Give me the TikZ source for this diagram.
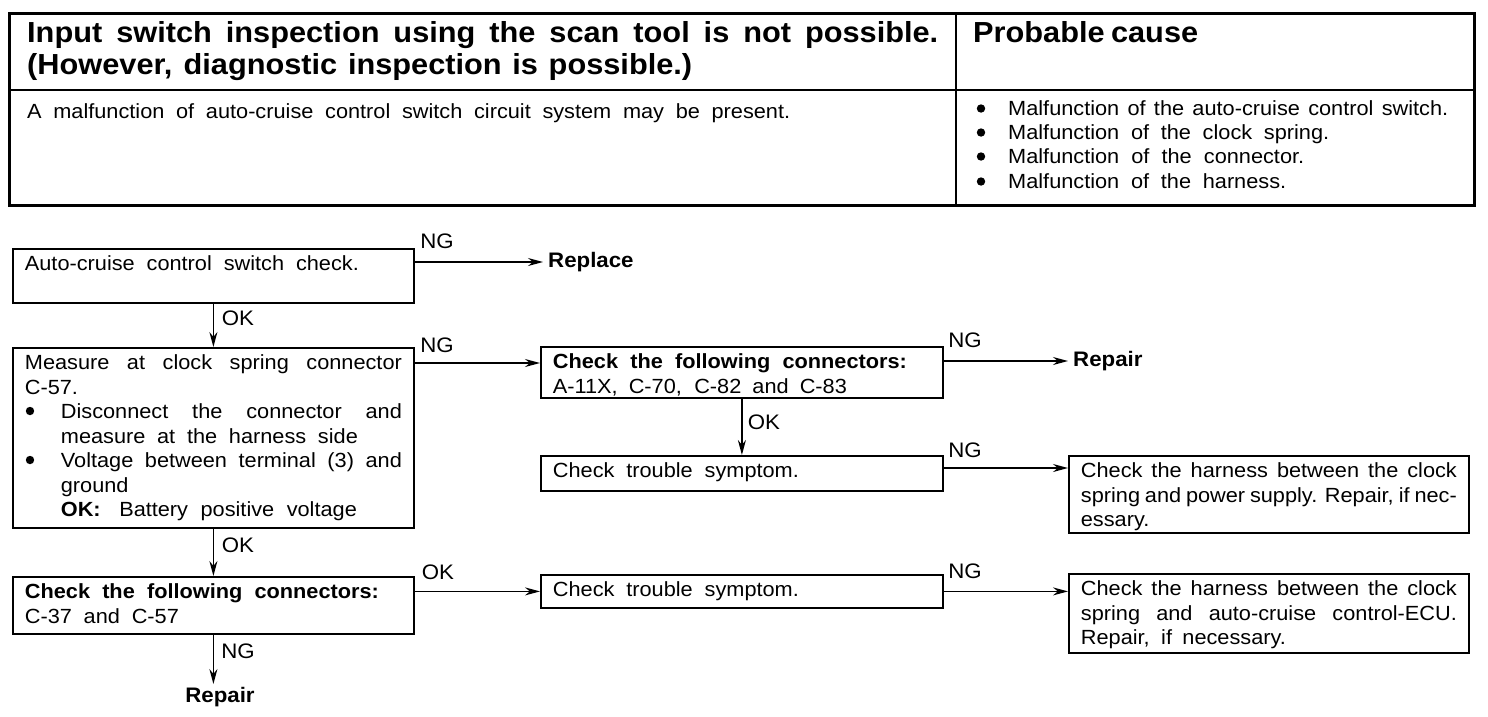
\documentclass[tikz,border=0pt]{standalone}
\usepackage{fontspec}
\setmainfont{Liberation Sans}[FakeStretch=1.06]
\usetikzlibrary{arrows.meta}
\newcommand{\LN}[2]{\makebox[#1pt][s]{#2}}
\newcommand{\fst}{\rule{0pt}{22pt}}
\begin{document}
\begin{tikzpicture}[x=1pt,y=-1pt,
  every node/.style={inner sep=0pt},
  txt/.style={font=\fontsize{20.5}{24.5}\selectfont},
  hdr/.style={font=\fontsize{29}{30}\selectfont\bfseries},
  box/.style={draw, line width=1.8pt, anchor=north west, inner xsep=12pt, inner ysep=0pt, font=\fontsize{20.5}{24.5}\selectfont},
  arr/.style={line width=1.4pt, -{Stealth[length=15pt,width=8pt]}},
  lbl/.style={font=\fontsize{21}{22}\selectfont},
  res/.style={font=\fontsize{21}{22}\selectfont\bfseries, inner sep=5pt},
  dot/.style={fill=black}]
\useasboundingbox (0,0) rectangle (1488,716);
\fill[white] (0,0) rectangle (1488,716);

% ---------- top table ----------
\draw[line width=3pt] (9,13) rectangle (1474,205);
\draw[line width=2pt] (9,90) -- (1474,90);
\draw[line width=2pt] (956,13) -- (956,205);
\node[hdr, anchor=base west] (h1) at (27,42) {\LN{911}{Input switch inspection using the scan tool is not possible.}};
\node[hdr, anchor=base west] (h2) at (27,74) {\LN{665}{(However, diagnostic inspection is possible.)}};
\node[hdr, anchor=base west] (h3) at (973,42) {\LN{225}{Probable cause}};
\node[txt, anchor=base west] (d1) at (27,118) {\LN{763}{A malfunction of auto-cruise control switch circuit system may be present.}};
\node[txt, anchor=base west] (c1) at (1008,115) {\LN{440}{Malfunction of the auto-cruise control switch.}};
\node[txt, anchor=base west] (c2) at (1008,139) {\LN{321}{Malfunction of the clock spring.}};
\node[txt, anchor=base west] (c3) at (1008,163) {\LN{296}{Malfunction of the connector.}};
\node[txt, anchor=base west] (c4) at (1008,188) {\LN{278}{Malfunction of the harness.}};
\fill[dot] (981,108.5) circle (4.2);
\fill[dot] (981,132.5) circle (4.2);
\fill[dot] (981,156.5) circle (4.2);
\fill[dot] (981,181.5) circle (4.2);

% ---------- flowchart boxes ----------
\node[box] (b1) at (12,248) {\parbox[c][54pt][t]{377pt}{\fst\LN{334}{Auto-cruise control switch check.}}};
\node[box] (b2) at (12,347) {\parbox[c][180pt][t]{377pt}{\fst\LN{377}{Measure at clock spring connector}\\
C-57.\\
\hspace*{36pt}\LN{341}{Disconnect the connector and}\\
\hspace*{36pt}\LN{297}{measure at the harness side}\\
\hspace*{36pt}\LN{341}{Voltage between terminal (3) and}\\
\hspace*{36pt}ground\\
\hspace*{36pt}\LN{296}{\textbf{OK:}\hspace{6pt} Battery positive voltage}}};
\fill[dot] (30,411) circle (4.2);
\fill[dot] (30,460) circle (4.2);
\node[box] (b3) at (540,346) {\parbox[c][51pt][t]{378pt}{\fst\textbf{\LN{354}{Check the following connectors:}}\\
\LN{294}{A-11X, C-70, C-82 and C-83}}};
\node[box] (b4) at (540,455) {\parbox[c][35pt][t]{378pt}{\fst\LN{246}{Check trouble symptom.}}};
\node[box] (b5) at (1068,455) {\parbox[c][77pt][t]{376pt}{\fst\LN{376}{Check the harness between the clock}\\
\LN{376}{spring and power supply. Repair, if nec-}\\
essary.}};
\node[box] (b6) at (12,576) {\parbox[c][57pt][t]{377pt}{\fst\textbf{\LN{354}{Check the following connectors:}}\\
\LN{154}{C-37 and C-57}}};
\node[box] (b7) at (540,574) {\parbox[c][33pt][t]{378pt}{\fst\LN{246}{Check trouble symptom.}}};
\node[box] (b8) at (1068,573) {\parbox[c][79pt][t]{376pt}{\fst\LN{376}{Check the harness between the clock}\\
\LN{376}{spring and auto-cruise control-ECU.}\\
\LN{205}{Repair, if necessary.}}};

% ---------- results ----------
\node[res, anchor=west] (rep1) at (543,262) {Replace};
\node[res, anchor=west] (rep2) at (1068,361) {Repair};
\node[res, inner sep=3pt] (rep3) at (220,697) {Repair};

% ---------- connectors ----------
\coordinate (y2) at (0,363);
\coordinate (y4) at (0,468);
\draw[arr] (b1.east |- rep1.west) -- (rep1.west);
\draw[arr] (b1.south) -- (b2.north);
\draw[arr] (b2.east |- y2) -- (b3.west |- y2);
\draw[arr] (b3.east |- rep2.west) -- (rep2.west);
\draw[arr] (b3.south) -- (b4.north);
\draw[arr] (b4.east |- y4) -- (b5.west |- y4);
\draw[arr] (b2.south) -- (b6.north);
\draw[arr] (b6.east |- b7.west) -- (b7.west);
\draw[arr] (b7.east) -- (b8.west |- b7.east);
\draw[arr] (b6.south) -- (b6.south |- rep3.north);

% ---------- labels ----------
\node[lbl] (l1) at (437,241) {NG};
\node[lbl] (l2) at (437,345) {NG};
\node[lbl] (l3) at (965,340) {NG};
\node[lbl] (l4) at (965,450) {NG};
\node[lbl] (l5) at (438,572) {OK};
\node[lbl] (l6) at (965,571) {NG};
\node[lbl] (l7) at (238,318) {OK};
\node[lbl] (l8) at (764,422) {OK};
\node[lbl] (l9) at (238,545) {OK};
\node[lbl] (l10) at (238,651) {NG};
\end{tikzpicture}
\end{document}
